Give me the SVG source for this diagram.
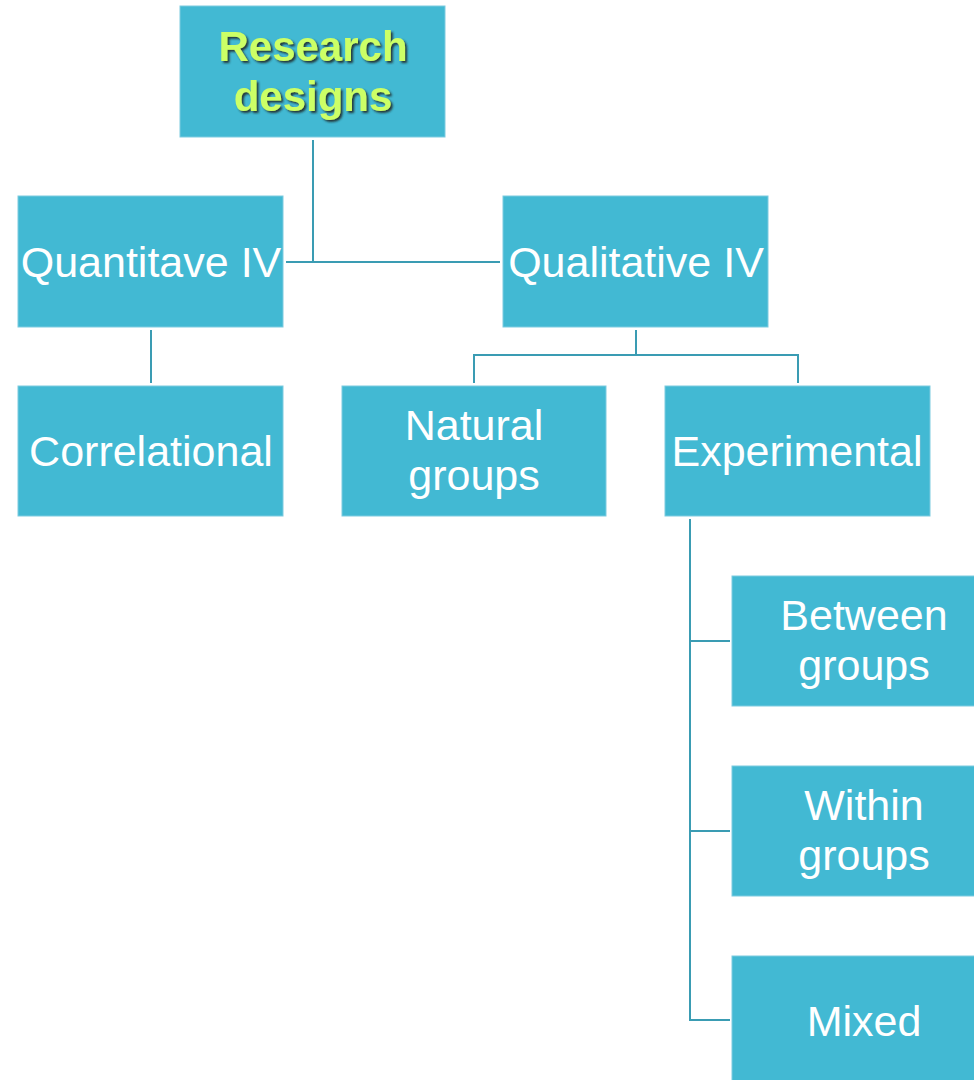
<svg xmlns="http://www.w3.org/2000/svg" width="974" height="1080" viewBox="0 0 974 1080">
<style>
.box{fill:#42B9D3;stroke:#7ccbe0;stroke-width:1}
.t{font-family:"Liberation Sans",Arial,sans-serif;font-size:43px;fill:#ffffff;text-anchor:middle}
.title{font-family:"Liberation Sans",Arial,sans-serif;font-size:42px;font-weight:bold;fill:#CCFF66;text-anchor:middle;filter:url(#sh)}
.c{fill:none;stroke:#3A9CB3;stroke-width:2}
</style>
<defs>
<filter id="sh" x="-10%" y="-10%" width="130%" height="140%">
<feDropShadow dx="2" dy="2" stdDeviation="0.8" flood-color="#1a2a2a" flood-opacity="0.9"/>
</filter>
</defs>
<rect width="974" height="1080" fill="#ffffff"/>
<g id="connectors">
<path class="c" d="M313 140V262M286 262H500"/>
<path class="c" d="M151 330V383"/>
<path class="c" d="M636 330V355M474 383V355H798V383"/>
<path class="c" d="M690 519V1020H730M690 641H730M690 831H730"/>
</g>
<g id="research-designs">
<rect class="box" x="180" y="6" width="265" height="131"/>
<text class="title" x="313" y="61">Research</text>
<text class="title" x="313" y="111">designs</text>
</g>
<g id="quantitave-iv">
<rect class="box" x="18" y="196" width="265" height="131"/>
<text class="t" x="151" y="277">Quantitave IV</text>
</g>
<g id="qualitative-iv">
<rect class="box" x="503" y="196" width="265" height="131"/>
<text class="t" x="636" y="277">Qualitative IV</text>
</g>
<g id="correlational">
<rect class="box" x="18" y="386" width="265" height="130"/>
<text class="t" x="151" y="466">Correlational</text>
</g>
<g id="natural-groups">
<rect class="box" x="342" y="386" width="264" height="130"/>
<text class="t" x="474" y="440">Natural</text>
<text class="t" x="474" y="490">groups</text>
</g>
<g id="experimental">
<rect class="box" x="665" y="386" width="265" height="130"/>
<text class="t" x="797" y="466">Experimental</text>
</g>
<g id="between-groups">
<rect class="box" x="732" y="576" width="265" height="130"/>
<text class="t" x="864" y="630">Between</text>
<text class="t" x="864" y="680">groups</text>
</g>
<g id="within-groups">
<rect class="box" x="732" y="766" width="265" height="130"/>
<text class="t" x="864" y="820">Within</text>
<text class="t" x="864" y="870">groups</text>
</g>
<g id="mixed">
<rect class="box" x="732" y="956" width="265" height="130"/>
<text class="t" x="864" y="1036">Mixed</text>
</g>
</svg>
